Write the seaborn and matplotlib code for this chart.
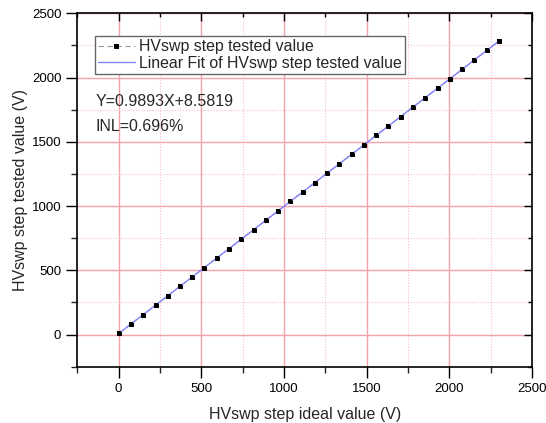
import numpy as np
import matplotlib
matplotlib.use("Agg")
import matplotlib.pyplot as plt
import seaborn as sns
from matplotlib.ticker import MultipleLocator

ideal = [0, 74, 148, 223, 297, 371, 445, 519, 594, 668, 742, 816, 890, 965, 1039, 1113,
         1187, 1261, 1335, 1410, 1484, 1558, 1632, 1706, 1781, 1855, 1929, 2003, 2077,
         2152, 2226, 2300]
tested = [9, 82, 155, 229, 302, 376, 449, 522, 596, 669, 743, 816, 889, 963, 1037, 1110,
          1183, 1256, 1329, 1403, 1477, 1550, 1623, 1696, 1770, 1844, 1917, 1990, 2063,
          2137, 2211, 2284]
slope, intercept = 0.9893, 8.5819
fit_label = "Y=0.9893X+8.5819"
inl_label = "INL=0.696%"

sns.set_style("ticks")
plt.rcParams["font.family"] = ["Liberation Sans", "DejaVu Sans"]

fig = plt.figure(figsize=(5.46, 4.23), dpi=100)
rect = [0.1416, 0.133, 0.8328, 0.8356]
ax = fig.add_axes(rect)

xs = np.array([ideal[0], ideal[-1]])
sns.lineplot(x=ideal, y=tested, ax=ax, color="#999999", lw=0.8, ls=(0, (5, 3)),
             marker="s", markersize=3.2, markerfacecolor="black", markeredgecolor="black",
             label="HVswp step tested value", zorder=3)
sns.lineplot(x=xs, y=slope * xs + intercept, ax=ax, color="#8484ff", lw=1.0,
             label="Linear Fit of HVswp step tested value", zorder=4)
# markers again on top of the fit line
sns.scatterplot(x=ideal, y=tested, ax=ax, marker="s", s=10, color="black",
                edgecolor="black", linewidth=0, zorder=5, legend=False)

lims = (-250, 2500)
ax.set_xlim(lims)
ax.set_ylim(lims)
for a in (ax.xaxis, ax.yaxis):
    a.set_major_locator(MultipleLocator(500))
    a.set_minor_locator(MultipleLocator(250))
ax.grid(which="major", color="#f4a3ad", lw=1.0)
ax.grid(which="minor", color="#f6c2c8", lw=0.8, ls=(0, (1, 1.5)))
ax.set_axisbelow(True)

ax.tick_params(which="major", direction="out", length=8, width=1, labelsize=9.5, colors="black")
ax.tick_params(which="minor", direction="out", length=4, width=1)
for s in ax.spines.values():
    s.set_linewidth(1.2)
    s.set_color("black")

# overlay axes for the inward ticks on top and right
ax2 = fig.add_axes(rect, frameon=False)
ax2.set_xlim(lims)
ax2.set_ylim(lims)
for a in (ax2.xaxis, ax2.yaxis):
    a.set_major_locator(MultipleLocator(500))
    a.set_minor_locator(MultipleLocator(250))
ax2.grid(False)
ax2.patch.set_visible(False)
ax2.tick_params(which="both", bottom=False, left=False, labelbottom=False, labelleft=False,
                top=True, right=True, labeltop=False, labelright=False,
                direction="in", width=1, colors="black")
ax2.tick_params(which="major", length=6)
ax2.tick_params(which="minor", length=3)

ax.set_xlabel("HVswp step ideal value (V)", fontsize=11.5, labelpad=9)
ax.set_ylabel("HVswp step tested value (V)", fontsize=11.5, labelpad=3)

leg = ax.legend(loc="upper left", bbox_to_anchor=(0.039, 0.936), fontsize=11.4,
                frameon=True, fancybox=False, borderpad=0.2, labelspacing=0.1,
                handlelength=2.3, handletextpad=0.25, borderaxespad=0)
leg.get_frame().set_edgecolor("#666666")
leg.get_frame().set_linewidth(1.0)
leg.get_frame().set_alpha(1)

ax.text(0.041, 0.75, fit_label, transform=ax.transAxes, fontsize=11.5, va="center")
ax.text(0.041, 0.679, inl_label, transform=ax.transAxes, fontsize=11.5, va="center")

fig.savefig("out.png", dpi=100)
